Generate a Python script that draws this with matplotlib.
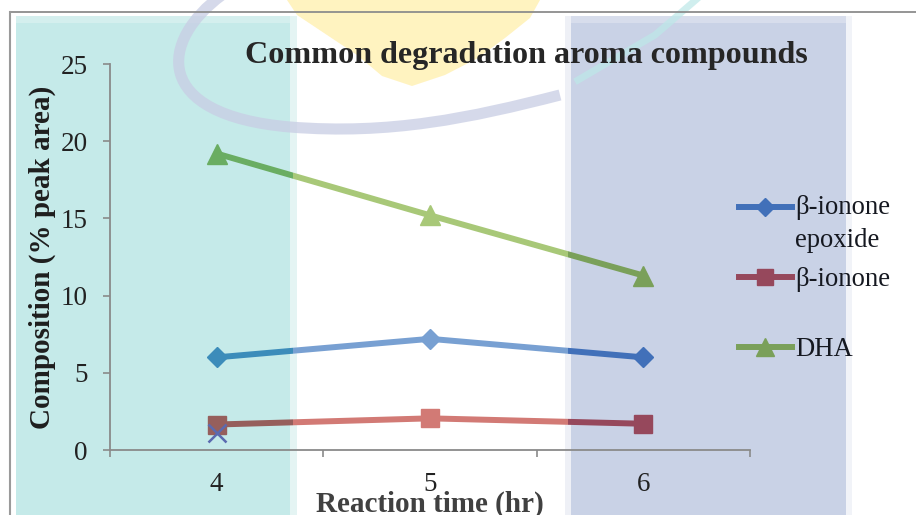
import numpy as np
import matplotlib
matplotlib.use('Agg')
import matplotlib.pyplot as plt
from matplotlib.patches import Rectangle, PathPatch, Polygon
from matplotlib.path import Path
from matplotlib.lines import Line2D
from matplotlib.legend_handler import HandlerLine2D

plt.rcParams['font.family'] = ['Liberation Serif', 'DejaVu Serif']

# ---------------- data ----------------
categories = ['4', '5', '6']
series_names = ['β-ionone\nepoxide', 'β-ionone', 'DHA']
epoxide = [6.0, 7.2, 6.0]
ionone = [1.65, 2.05, 1.7]
dha = [19.2, 15.2, 11.3]
stray_point = [1.1]          # lone "x" marker at 4 hr
yticks = [0, 5, 10, 15, 20, 25]

title = 'Common degradation aroma compounds'
xlabel = 'Reaction time (hr)'
ylabel = 'Composition (% peak area)'

W, H = 916, 515
fig = plt.figure(figsize=(W / 100, H / 100), dpi=100)
fig.patch.set_facecolor('white')


def fx(px):
    return px / W


def fy(py):
    return 1 - py / H


def frect(x0, y0, x1, y1, color, z=-5, alpha=1.0):
    r = Rectangle((fx(x0), fy(y1)), fx(x1) - fx(x0), fy(y0) - fy(y1),
                  transform=fig.transFigure, facecolor=color, edgecolor='none',
                  zorder=z, alpha=alpha)
    fig.add_artist(r)
    return r


# ---------------- decorative background ----------------
yellow = [(287, 0), (540, 0), (530, 18), (505, 38), (478, 58), (445, 75),
          (412, 86), (382, 76), (357, 55), (327, 35), (297, 15)]
fig.add_artist(Polygon([(fx(a), fy(b)) for a, b in yellow], closed=True,
                       transform=fig.transFigure, facecolor='#FFF3C0',
                       edgecolor='none', zorder=-6))

# teal panel
frect(16, 23, 290, 515, '#C5EAE9')
frect(16, 16, 290, 23, '#D4EFEE')
frect(290, 16, 297, 515, '#E4F4F3')
# blue-grey panel
frect(571, 23, 846, 515, '#C9D2E6')
frect(571, 16, 846, 23, '#D7DDEC')
frect(565, 16, 571, 515, '#EEF0F6')
frect(846, 16, 852, 515, '#F1F3F8')

# grey arc
verts = [(222, -5), (160, 40), (150, 115), (290, 127), (390, 135), (470, 118), (560, 95)]
codes = [Path.MOVETO, Path.CURVE4, Path.CURVE4, Path.CURVE4, Path.CURVE4, Path.CURVE4, Path.CURVE4]
arc = Path([(fx(a), fy(b)) for a, b in verts], codes)
fig.add_artist(PathPatch(arc, transform=fig.transFigure, facecolor='none',
                         edgecolor='#C8CDE4', lw=8, alpha=0.75, zorder=-4,
                         capstyle='butt'))
# teal streak
fig.add_artist(Line2D([fx(698), fx(655), fx(578)], [fy(-2), fy(35), fy(80)],
                      transform=fig.transFigure, color='#BDE8E8', lw=5,
                      alpha=0.7, zorder=-4))

# frame lines
fig.add_artist(Line2D([fx(10), fx(916)], [fy(12), fy(12)], transform=fig.transFigure,
                      color='#8c8c8c', lw=1.3, zorder=-3))
fig.add_artist(Line2D([fx(10), fx(10)], [fy(12), fy(515)], transform=fig.transFigure,
                      color='#9a9a9a', lw=1.5, zorder=-3))

# ---------------- axes ----------------
ax = fig.add_axes([fx(110), fy(450), fx(750) - fx(110), fy(64) - fy(450)])
ax.patch.set_visible(False)
x = np.arange(len(categories))

region_clips = {
    'teal': (0, 293),
    'white': (293, 568),
    'slate': (568, 916),
}
palette = {
    'teal': ['#3C8CBA', '#965F5C', '#6AAD62'],
    'white': ['#78A0D2', '#D27A75', '#A8C878'],
    'slate': ['#4170B9', '#96485C', '#7AA05A'],
}
markers = ['D', 's', '^']
msizes = [10.5, 13.5, 14.5]
values = [epoxide, ionone, dha]

handles = []
for region, (x0, x1) in region_clips.items():
    clip = Rectangle((fx(x0), 0), fx(x1) - fx(x0), 1, transform=fig.transFigure)
    for i, vals in enumerate(values):
        ln, = ax.plot(x, vals, color=palette[region][i], lw=4.3,
                      marker=markers[i], ms=msizes[i], mec=palette[region][i],
                      mfc=palette[region][i], zorder=3 + i * 0.1,
                      solid_joinstyle='miter', label=series_names[i])
        ln.set_clip_path(clip)
        if region == 'slate':
            handles.append(ln)

ax.plot([0], stray_point, ls='none', marker='x', ms=13, mew=1.8,
        color='#5B6AB0', zorder=5)

ax.set_xlim(-0.5, len(categories) - 0.5)
ax.set_ylim(0, 25)
ax.set_yticks(yticks)
ax.set_xticks(np.arange(len(categories) + 1) - 0.5)
ax.set_xticklabels([''] * (len(categories) + 1))
ax.set_xticks(x, minor=True)
ax.set_xticklabels(categories, minor=True)

for s in ['top', 'right']:
    ax.spines[s].set_visible(False)
for s in ['left', 'bottom']:
    ax.spines[s].set_color('#8a8a8a')
    ax.spines[s].set_linewidth(1.3)

ax.tick_params(axis='y', direction='out', length=5, width=1.2, color='#8a8a8a',
               labelsize=19.5, labelcolor='#222222', pad=11)
ax.tick_params(axis='x', which='major', direction='out', length=5, width=1.2,
               color='#8a8a8a')
ax.tick_params(axis='x', which='minor', length=0, labelsize=19.5,
               labelcolor='#222222', pad=16)

ax.set_ylabel(ylabel, fontsize=21, fontweight='bold', color='#1e1e1e')
ax.yaxis.set_label_coords(-0.085, 0.5)
ax.set_xlabel(xlabel, fontsize=21, fontweight='bold', color='#404040', labelpad=-5)

fig.text(fx(526), fy(63), title, ha='center', va='baseline', fontsize=23.1,
         fontweight='bold', color='#262626')


# ---------------- legend ----------------
class FirstLineHandler(HandlerLine2D):
    def __init__(self, shift, **kw):
        super().__init__(**kw)
        self.shift = shift

    def create_artists(self, legend, orig_handle, xdescent, ydescent, width,
                       height, fontsize, trans):
        arts = super().create_artists(legend, orig_handle, xdescent, ydescent,
                                      width, height, fontsize, trans)
        for a in arts:
            a.set_ydata(np.asarray(a.get_ydata(), float) + self.shift)
        return arts


leg_centers = [224, 280, 350]
for i, h in enumerate(handles):
    hmap = {h: FirstLineHandler(12.5)} if '\n' in series_names[i] else None
    leg = fig.legend([h], [series_names[i]], loc='center left',
                     bbox_to_anchor=(fx(739), fy(leg_centers[i])),
                     bbox_transform=fig.transFigure, frameon=False,
                     fontsize=19.2, borderpad=0, borderaxespad=0,
                     handlelength=1.98, handletextpad=0.12, markerscale=0.85,
                     handler_map=hmap)
    for t in leg.get_texts():
        t.set_color('#151820')
        t.set_linespacing(1.38)

fig.savefig('out.png', dpi=100, facecolor='white')
